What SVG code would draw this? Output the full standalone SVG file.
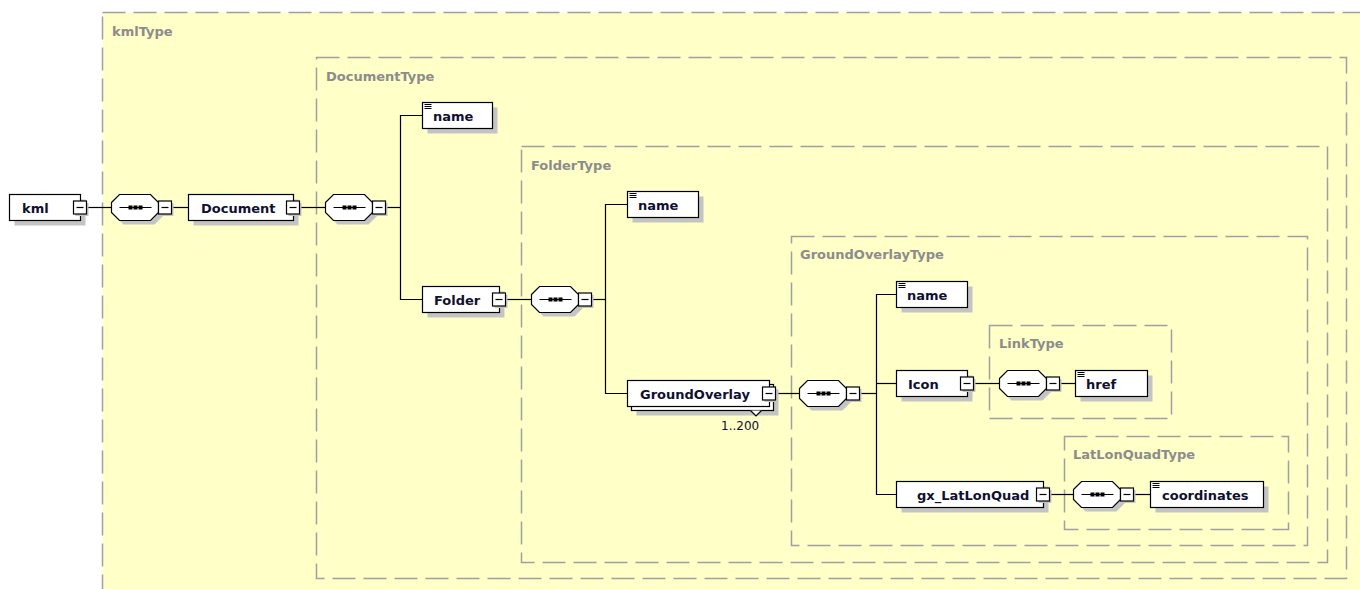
<svg xmlns="http://www.w3.org/2000/svg" width="1360" height="589" viewBox="0 0 1360 589">
<style>
.bg{fill:#ffffff}
.type{fill:#ffffc8;stroke:#a0a0a0;stroke-width:1.5;stroke-dasharray:23 8}
.inner{fill:none;stroke:#a0a0a0;stroke-width:1.5;stroke-dasharray:23 8}
.tl{font-family:"DejaVu Sans",Verdana,sans-serif;font-weight:bold;font-size:13px;fill:#8c8c8c}
.box{fill:#ffffff;stroke:#000000;stroke-width:1.2}
.sh{fill:#c4c4c4}
.nt{font-family:"DejaVu Sans",Verdana,sans-serif;font-weight:bold;font-size:13px;fill:#101030}
.occ{font-family:"DejaVu Sans",Verdana,sans-serif;font-size:12px;fill:#101030}
.ln{fill:none;stroke:#000000;stroke-width:1.2}
.ic{fill:none;stroke:#000000;stroke-width:1}
.dot{fill:#000000}
</style>
<defs>
<g id="minus">
<rect class="sh" x="2" y="2" width="13" height="13"/>
<rect class="box" x="0" y="0" width="13" height="13"/>
<line class="ln" x1="3" y1="6.5" x2="10" y2="6.5"/>
</g>
<g id="seq">
<polygon class="sh" points="4,12 12,4 43,4 51,12 51,22 43,30 12,30 4,22"/>
<polygon class="box" points="0,8 8,0 39,0 47,8 47,18 39,26 8,26 0,18"/>
<line class="ln" x1="8" y1="13" x2="40" y2="13"/>
<rect class="dot" x="17" y="11" width="4" height="4"/>
<rect class="dot" x="22" y="11" width="4" height="4"/>
<rect class="dot" x="27" y="11" width="4" height="4"/>
<use href="#minus" x="47" y="6.5"/>
</g>
<g id="ico">
<line class="ic" x1="2" y1="2" x2="9" y2="2"/>
<line class="ic" x1="2" y1="4" x2="9" y2="4"/>
<line class="ic" x1="2" y1="6" x2="9" y2="6"/>
</g>
</defs>
<rect class="bg" x="0" y="0" width="1360" height="589"/>

<g id="types">
<rect class="type" x="102.5" y="12.5" width="1300" height="620"/>
<text class="tl" x="112" y="36">kmlType</text>
<rect class="inner" x="316.5" y="57.5" width="1030" height="521"/>
<text class="tl" x="326" y="81">DocumentType</text>
<rect class="inner" x="521.5" y="146.5" width="806" height="416"/>
<text class="tl" x="531" y="170">FolderType</text>
<rect class="inner" x="791.5" y="236.5" width="516" height="309"/>
<text class="tl" x="800" y="259">GroundOverlayType</text>
<rect class="inner" x="989.5" y="325.5" width="182" height="93"/>
<text class="tl" x="999" y="348">LinkType</text>
<rect class="inner" x="1064.5" y="436.5" width="224" height="93"/>
<text class="tl" x="1073" y="459">LatLonQuadType</text>
</g>

<g id="connectors">
<line class="ln" x1="86.5" y1="207.5" x2="111.5" y2="207.5"/>
<line class="ln" x1="171.5" y1="207.5" x2="188.5" y2="207.5"/>
<line class="ln" x1="299.5" y1="207.5" x2="325.5" y2="207.5"/>
<line class="ln" x1="385.5" y1="207.5" x2="400.5" y2="207.5"/>
<polyline class="ln" points="422.5,115.5 400.5,115.5 400.5,299.5 422.5,299.5"/>
<line class="ln" x1="505.5" y1="299.5" x2="531.5" y2="299.5"/>
<line class="ln" x1="591.5" y1="299.5" x2="605.5" y2="299.5"/>
<polyline class="ln" points="627.5,204.5 605.5,204.5 605.5,393.5 627.5,393.5"/>
<line class="ln" x1="775.5" y1="393.5" x2="799.5" y2="393.5"/>
<line class="ln" x1="859.5" y1="393.5" x2="876.5" y2="393.5"/>
<polyline class="ln" points="896.5,294.5 876.5,294.5 876.5,494.5 896.5,494.5"/>
<line class="ln" x1="876.5" y1="383.5" x2="896.5" y2="383.5"/>
<line class="ln" x1="973.5" y1="383.5" x2="999.5" y2="383.5"/>
<line class="ln" x1="1059.5" y1="383.5" x2="1075.5" y2="383.5"/>
<line class="ln" x1="1049.5" y1="494.5" x2="1073.5" y2="494.5"/>
<line class="ln" x1="1133.5" y1="494.5" x2="1150.5" y2="494.5"/>
</g>

<g id="kml">
<rect class="sh" x="14.5" y="199.5" width="71" height="26"/>
<rect class="box" x="9.5" y="194.5" width="71" height="26"/>
<text class="nt" x="22" y="212.5">kml</text>
<use href="#minus" x="73.5" y="201"/>
</g>
<g id="seq1"><use href="#seq" x="111.5" y="194.5"/></g>
<g id="document">
<rect class="sh" x="193.5" y="199.5" width="105" height="26"/>
<rect class="box" x="188.5" y="194.5" width="105" height="26"/>
<text class="nt" x="201" y="212.5">Document</text>
<use href="#minus" x="286.5" y="201"/>
</g>
<g id="seq2"><use href="#seq" x="325.5" y="194.5"/></g>
<g id="doc-name">
<rect class="sh" x="427.5" y="107.5" width="70" height="26"/>
<rect class="box" x="422.5" y="102.5" width="70" height="26"/>
<use href="#ico" x="422.5" y="102.5"/>
<text class="nt" x="433" y="120.5">name</text>
</g>
<g id="folder">
<rect class="sh" x="427.5" y="291.5" width="77" height="26"/>
<rect class="box" x="422.5" y="286.5" width="77" height="26"/>
<text class="nt" x="434" y="304.5">Folder</text>
<use href="#minus" x="492.5" y="293"/>
</g>
<g id="seq3"><use href="#seq" x="531.5" y="286.5"/></g>
<g id="folder-name">
<rect class="sh" x="632.5" y="196.5" width="71" height="26"/>
<rect class="box" x="627.5" y="191.5" width="71" height="26"/>
<use href="#ico" x="627.5" y="191.5"/>
<text class="nt" x="638" y="209.5">name</text>
</g>
<g id="groundoverlay">
<rect class="sh" x="636.5" y="389.5" width="142" height="26"/>
<rect class="box" x="631.5" y="384.5" width="142" height="26"/>
<rect class="box" x="627.5" y="380.5" width="142" height="26"/>
<polyline class="box" points="750.5,410.5 756,416 761.5,410.5"/>
<text class="nt" x="640" y="398.5">GroundOverlay</text>
<use href="#minus" x="762.5" y="387"/>
<text class="occ" x="721" y="430">1..200</text>
</g>
<g id="seq4"><use href="#seq" x="799.5" y="380.5"/></g>
<g id="go-name">
<rect class="sh" x="901.5" y="286.5" width="71" height="26"/>
<rect class="box" x="896.5" y="281.5" width="71" height="26"/>
<use href="#ico" x="896.5" y="281.5"/>
<text class="nt" x="907" y="299.5">name</text>
</g>
<g id="icon">
<rect class="sh" x="901.5" y="375.5" width="71" height="26"/>
<rect class="box" x="896.5" y="370.5" width="71" height="26"/>
<text class="nt" x="908" y="388.5">Icon</text>
<use href="#minus" x="960.5" y="377"/>
</g>
<g id="seq5"><use href="#seq" x="999.5" y="370.5"/></g>
<g id="href">
<rect class="sh" x="1080.5" y="375.5" width="72" height="26"/>
<rect class="box" x="1075.5" y="370.5" width="72" height="26"/>
<use href="#ico" x="1075.5" y="370.5"/>
<text class="nt" x="1086" y="388.5">href</text>
</g>
<g id="gx_latlonquad">
<rect class="sh" x="901.5" y="486.5" width="147" height="26"/>
<rect class="box" x="896.5" y="481.5" width="147" height="26"/>
<text class="nt" x="917" y="499.5">gx_LatLonQuad</text>
<use href="#minus" x="1036.5" y="488"/>
</g>
<g id="seq6"><use href="#seq" x="1073.5" y="481.5"/></g>
<g id="coordinates">
<rect class="sh" x="1155.5" y="486.5" width="113" height="26"/>
<rect class="box" x="1150.5" y="481.5" width="113" height="26"/>
<use href="#ico" x="1150.5" y="481.5"/>
<text class="nt" x="1162" y="499.5">coordinates</text>
</g>
</svg>
